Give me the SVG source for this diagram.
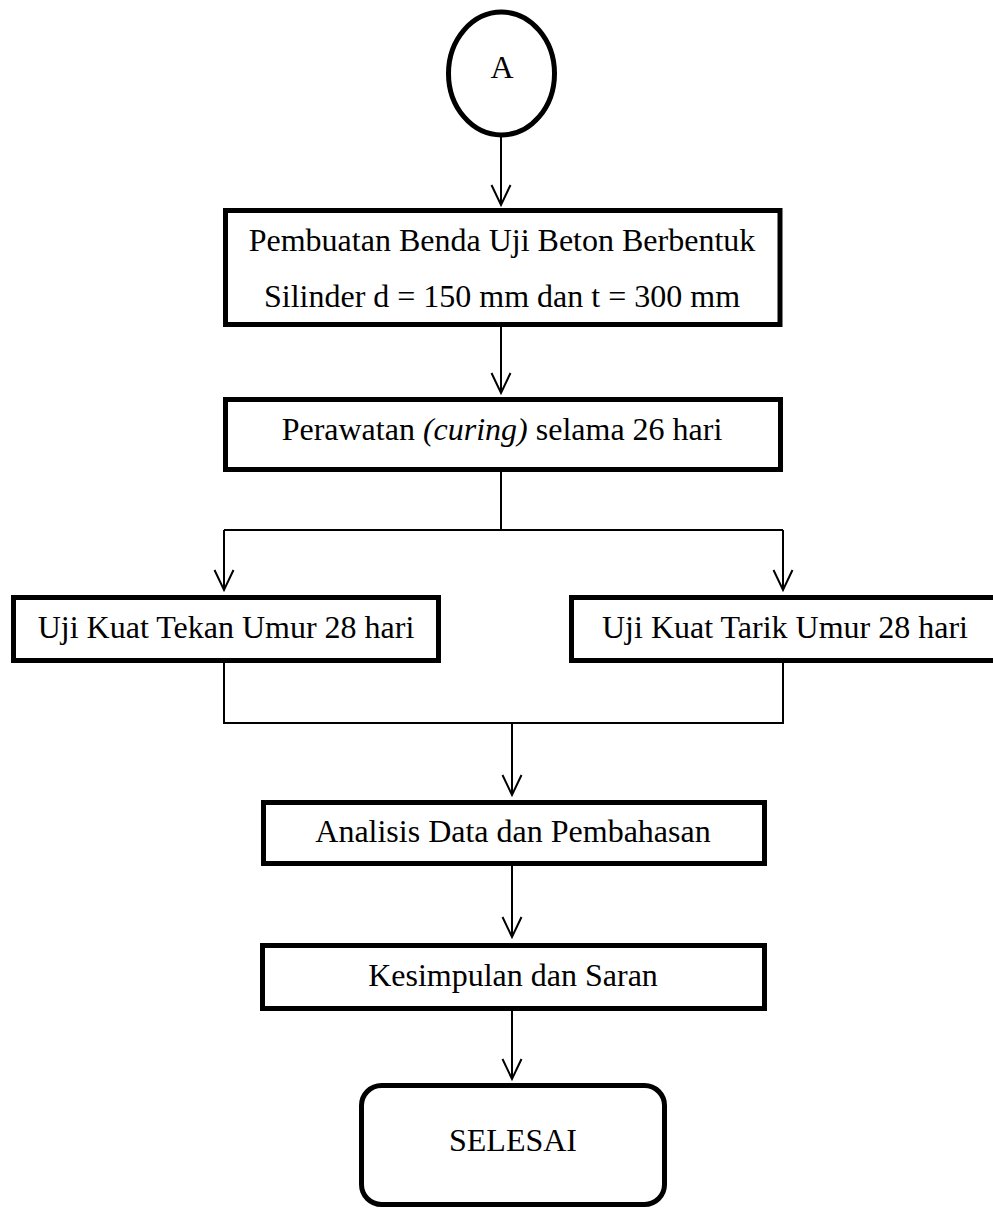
<svg xmlns="http://www.w3.org/2000/svg" width="993" height="1211" viewBox="0 0 993 1211">
<style>
.box{fill:#fff;stroke:#000;stroke-width:5}
.t{font-family:"Liberation Serif","Times New Roman",serif;font-size:32px;fill:#000;text-anchor:middle}
.c{fill:none;stroke:#000;stroke-width:2}
</style>
<defs>
<marker id="ah" viewBox="-12 -22 24 24" refX="0" refY="0" markerWidth="24" markerHeight="24" markerUnits="userSpaceOnUse" orient="auto-start-reverse">
<path d="M-9.5,-20 L0,0 L9.5,-20" fill="none" stroke="#000" stroke-width="2"/>
</marker>
</defs>
<rect width="993" height="1211" fill="#fff"/>
<g id="connectors">
<line class="c" x1="501" y1="137" x2="501" y2="205"/>
<path class="c" d="M501,205 l0,0" />
<line class="c" x1="501" y1="327" x2="501" y2="393"/>
<polyline class="c" points="501,472 501,530"/>
<polyline class="c" points="224,530 783,530"/>
<line class="c" x1="224" y1="530" x2="224" y2="590"/>
<line class="c" x1="783" y1="530" x2="783" y2="590"/>
<polyline class="c" points="224,663 224,723 783,723 783,663"/>
<line class="c" x1="512" y1="723" x2="512" y2="795"/>
<line class="c" x1="512" y1="866" x2="512" y2="937"/>
<line class="c" x1="512" y1="1011" x2="512" y2="1079"/>
<g class="c">
<path d="M491.5,185 L501,205 L510.5,185"/>
<path d="M491.5,373 L501,393 L510.5,373"/>
<path d="M214.5,570 L224,590 L233.5,570"/>
<path d="M773.5,570 L783,590 L792.5,570"/>
<path d="M502.5,775 L512,795 L521.5,775"/>
<path d="M502.5,917 L512,937 L521.5,917"/>
<path d="M502.5,1059 L512,1079 L521.5,1059"/>
</g>
</g>
<g id="nodeA">
<ellipse cx="501.5" cy="73.5" rx="53" ry="61.5" fill="#fff" stroke="#000" stroke-width="5"/>
<text class="t" x="502" y="78">A</text>
</g>
<g id="pembuatan">
<rect class="box" x="225.5" y="210.5" width="554.5" height="114"/>
<text class="t" x="502" y="251">Pembuatan Benda Uji Beton Berbentuk</text>
<text class="t" x="502" y="307">Silinder d = 150 mm dan t = 300 mm</text>
</g>
<g id="perawatan">
<rect class="box" x="225.5" y="399.5" width="555" height="70"/>
<text class="t" x="502" y="440">Perawatan <tspan font-style="italic">(curing)</tspan> selama 26 hari</text>
</g>
<g id="ujiTekan">
<rect class="box" x="13.5" y="597.5" width="425" height="63"/>
<text class="t" x="226" y="638">Uji Kuat Tekan Umur 28 hari</text>
</g>
<g id="ujiTarik">
<rect class="box" x="571.5" y="597.5" width="430" height="63"/>
<text class="t" x="785" y="638">Uji Kuat Tarik Umur 28 hari</text>
</g>
<g id="analisis">
<rect class="box" x="263.5" y="802.5" width="501" height="61"/>
<text class="t" x="513" y="842">Analisis Data dan Pembahasan</text>
</g>
<g id="kesimpulan">
<rect class="box" x="262.5" y="945.5" width="502" height="63"/>
<text class="t" x="513" y="986">Kesimpulan dan Saran</text>
</g>
<g id="selesai">
<rect class="box" x="361.5" y="1085.5" width="303" height="119" rx="20" ry="20"/>
<text class="t" x="513" y="1151">SELESAI</text>
</g>
</svg>
